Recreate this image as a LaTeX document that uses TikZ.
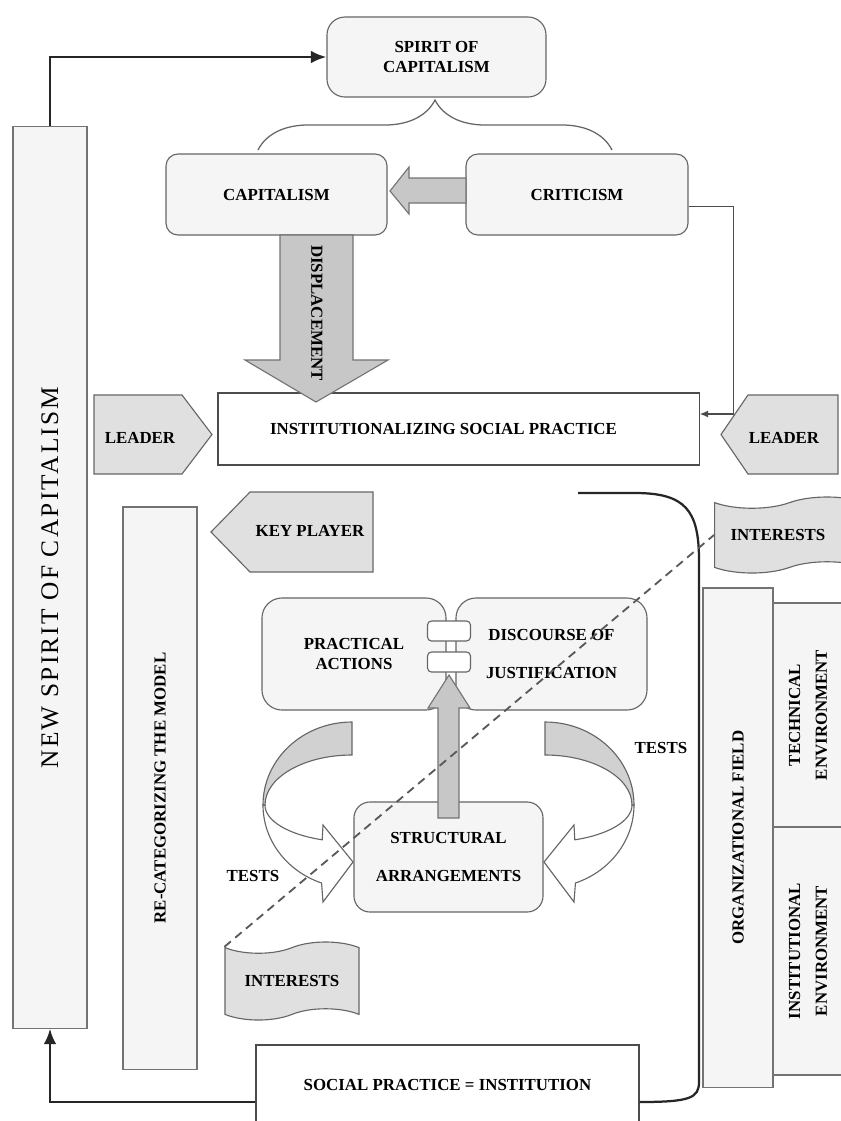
\documentclass[tikz,border=0pt]{standalone}
\usepackage{fontspec}
\setmainfont{Liberation Serif}
\newfontfamily\spacedserif[LetterSpace=9]{Liberation Serif}
\usetikzlibrary{arrows.meta, shapes, shapes.symbols, calc, decorations.pathreplacing, positioning}

\begin{document}
\begin{tikzpicture}[x=0.025cm, y=-0.025cm,
	font=\bfseries\fontsize{12}{14}\selectfont,
	softbox/.style={draw=black!60, fill=black!4, line width=0.8pt, rounded corners=0.3cm, align=center},
	plainbox/.style={draw=black!70, fill=white, line width=0.8pt, align=center},
	barbox/.style={draw=black!55, fill=black!4, line width=0.8pt},
	vtext/.style={rotate=90, align=center, inner sep=0pt},
	knot/.style={draw=black!60, fill=white, line width=0.8pt, rounded corners=0.1cm, minimum width=1.075cm, minimum height=0.5cm, inner sep=0pt},
	tab/.style={draw=black!60, fill=black!12, line width=0.8pt},
	blockarrow/.style={draw=black!55, fill=black!22, line width=0.8pt},
	interest/.style={tape, draw=black!60, fill=black!12, line width=0.8pt, tape bend height=8pt, inner sep=0pt},
	bigline/.style={line width=1.8pt, black!85, -{Latex[length=11pt, width=9pt]}},
	thinline/.style={line width=1pt, black!70, -{Latex[length=6pt, width=5pt]}},
	bendline/.style={line width=1.6pt, black!85},
	dashline/.style={line width=1.3pt, black!65, dash pattern=on 6pt off 4pt}]

	\useasboundingbox[fill=white] (0,0) rectangle (841,1121);

	% upper part
	\node[softbox, minimum width=5.475cm, minimum height=2cm, rounded corners=0.45cm] (spirit) at (436.5,57) {SPIRIT OF\\CAPITALISM};
	\node[softbox, minimum width=5.525cm, minimum height=2.025cm] (capitalism) at (276.5,194.5) {CAPITALISM};
	\node[softbox, minimum width=5.55cm, minimum height=2.025cm] (criticism) at (577,194.5) {CRITICISM};
	\node[plainbox, minimum width=12.025cm, minimum height=1.8cm] (inst) at (458.5,429) {INSTITUTIONALIZING SOCIAL PRACTICE\hspace*{0.75cm}};

	\coordinate (braceL) at (258,150);
	\coordinate (braceR) at (612,150);
	\draw[black!60, line width=0.9pt, decorate, decoration={brace, amplitude=1.25cm}] (braceL) -- (braceR);

	\draw[blockarrow] (466,178) -- (409,178) -- (409,167) -- (390,191) -- (409,214) -- (409,203) -- (466,203) -- cycle;
	\draw[blockarrow] (280,235) -- (280,360) -- (245,360) -- (316,402) -- (388,360) -- (353,360) -- (353,235) -- cycle;
	\node[rotate=-90, inner sep=0pt] (displ) at (317,313) {DISPLACEMENT};

	\draw[thinline] ([yshift=-0.3cm]criticism.east) -- ++(45,0) |- ([yshift=0.375cm]inst.east);

	% leaders
	\draw[tab] (94,395) -- (182,395) -- (212,434.5) -- (182,474) -- (94,474) -- cycle;
	\node (leaderL) at (140,438) {LEADER};
	\draw[tab] (838,395) -- (748,395) -- (721,434.5) -- (748,474) -- (838,474) -- cycle;
	\node (leaderR) at (784,438) {LEADER};
	\draw[tab] (373,492) -- (250,492) -- (211,532) -- (250,572) -- (373,572) -- cycle;
	\node (keyplayer) at (310,531) {KEY PLAYER};

	% side bars
	\node[barbox, vtext, minimum width=22.525cm, minimum height=1.85cm, font=\spacedserif\mdseries\fontsize{18}{22}\selectfont] (newspirit) at (50,577.5) {NEW SPIRIT OF CAPITALISM};
	\node[barbox, vtext, minimum width=14.05cm, minimum height=1.85cm] (recat) at (160,788) {RE-CATEGORIZING THE MODEL};
	\node[barbox, vtext, minimum width=12.475cm, minimum height=1.75cm] (orgfield) at (738,837.5) {ORGANIZATIONAL FIELD};
	\node[barbox, vtext, minimum width=5.6cm, minimum height=1.75cm] (techenv) at (808,715) {TECHNICAL\\[5pt]ENVIRONMENT};
	\node[barbox, vtext, minimum width=6.2cm, minimum height=1.75cm] (instenv) at (808,951) {INSTITUTIONAL\\[5pt]ENVIRONMENT};

	% inner loop
	\node[softbox, minimum width=4.6cm, minimum height=2.8cm, rounded corners=0.5cm] (practical) at (354,654) {PRACTICAL\\ACTIONS};
	\node[softbox, minimum width=4.775cm, minimum height=2.8cm, rounded corners=0.5cm] (discourse) at (551.5,654) {DISCOURSE OF\\[13pt]JUSTIFICATION};
	\node[softbox, minimum width=4.725cm, minimum height=2.75cm, rounded corners=0.4cm] (structural) at (448.5,857) {STRUCTURAL\\[13pt]ARRANGEMENTS};
	\draw[blockarrow] (438,818) -- (438,708) -- (428,708) -- (449,675) -- (470,708) -- (459,708) -- (459,818) -- cycle;
	\node[knot] (knot1) at (449,631) {};
	\node[knot] (knot2) at (449,662) {};

	% tests arrows
	\draw[tab, fill=white] (263,805) arc[start angle=180, end angle=110, x radius=89, y radius=83] -- (323,902) -- (353,862) -- (323,825) -- (322.2,839.8) arc[start angle=110, end angle=180, x radius=87, y radius=37] -- cycle;
	\draw[tab, fill=black!18] (352,722) arc[start angle=-90, end angle=-180, x radius=89, y radius=83] -- (265,805) arc[start angle=180, end angle=270, x radius=87, y radius=50] -- cycle;
	\draw[tab, fill=white] (634,805) arc[start angle=0, end angle=70, x radius=89, y radius=83] -- (574,902) -- (544,862) -- (574,825) -- (574.8,839.8) arc[start angle=70, end angle=0, x radius=87, y radius=37] -- cycle;
	\draw[tab, fill=black!18] (545,722) arc[start angle=-90, end angle=0, x radius=89, y radius=83] -- (632,805) arc[start angle=0, end angle=-90, x radius=87, y radius=50] -- cycle;
	\node (testsL) at (253,876) {TESTS};
	\node (testsR) at (661,748) {TESTS};

	% interests
	\node[interest, minimum width=3.35cm, minimum height=1.95cm] (intB) at (292,981) {INTERESTS};
	\node[interest, anchor=west, minimum height=1.9cm, text width=2.95cm, align=left, inner xsep=0.4cm] (intR) at (714,535) {INTERESTS};

	% bottom
	\node[plainbox, minimum width=9.575cm, minimum height=2cm] (social) at (447.5,1085) {SOCIAL PRACTICE = INSTITUTION};

	\coordinate (bendstart) at (578,493);
	\draw[bendline] (bendstart) -- (635,493) .. controls (685,493) and (699,510) .. (699,560) -- (699,1082) .. controls (699,1098) and (690,1102) .. ([yshift=-0.425cm]social.east);

	\draw[bigline] (newspirit.east) |- (spirit.west);
	\draw[bigline] ([yshift=-0.425cm]social.west) -| (newspirit.west);

	\draw[dashline] (intB.north west) -- (intR.west);
\end{tikzpicture}
\end{document}
